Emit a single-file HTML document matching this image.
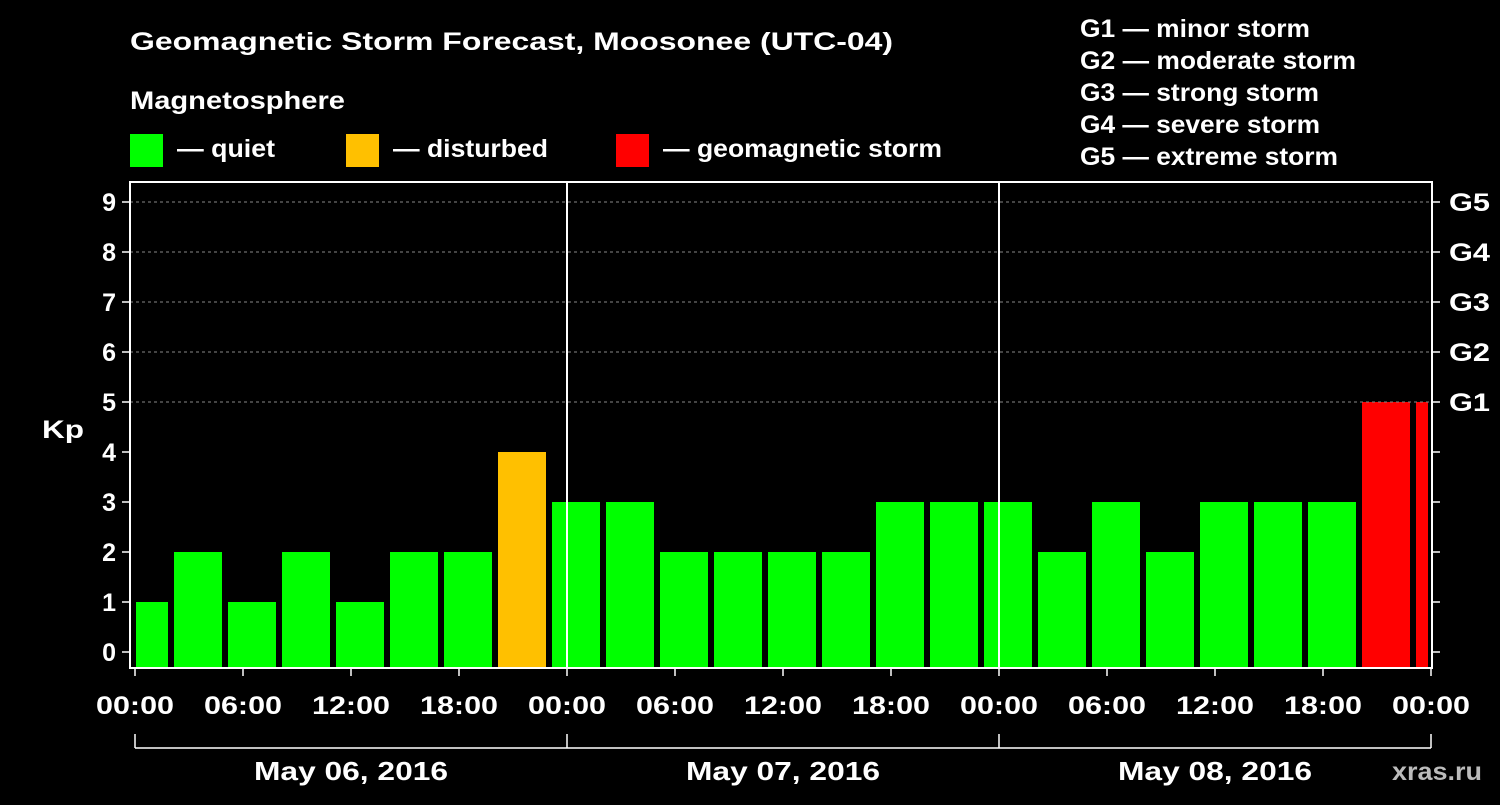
<!DOCTYPE html>
<html><head><meta charset="utf-8"><style>
body{margin:0;background:#000;width:1500px;height:800px;overflow:hidden}
svg text{font-family:"Liberation Sans",Arial,sans-serif;font-weight:bold;fill:#fff}
</style></head><body>
<svg id="c" width="1500" height="800" xmlns="http://www.w3.org/2000/svg">
<text x="130" y="50" font-size="25" textLength="763" lengthAdjust="spacingAndGlyphs">Geomagnetic Storm Forecast, Moosonee (UTC-04)</text>
<text x="130" y="109" font-size="25" textLength="215" lengthAdjust="spacingAndGlyphs">Magnetosphere</text>
<rect x="130" y="134" width="33" height="33" fill="#00ff00"/>
<text x="177" y="157" font-size="25" textLength="98" lengthAdjust="spacingAndGlyphs">— quiet</text>
<rect x="346" y="134" width="33" height="33" fill="#ffc000"/>
<text x="393" y="157" font-size="25" textLength="155" lengthAdjust="spacingAndGlyphs">— disturbed</text>
<rect x="616" y="134" width="33" height="33" fill="#ff0000"/>
<text x="663" y="157" font-size="25" textLength="279" lengthAdjust="spacingAndGlyphs">— geomagnetic storm</text>
<g font-size="25">
<text x="1080" y="37" textLength="230" lengthAdjust="spacingAndGlyphs">G1 — minor storm</text>
<text x="1080" y="69" textLength="276" lengthAdjust="spacingAndGlyphs">G2 — moderate storm</text>
<text x="1080" y="101" textLength="239" lengthAdjust="spacingAndGlyphs">G3 — strong storm</text>
<text x="1080" y="133" textLength="240" lengthAdjust="spacingAndGlyphs">G4 — severe storm</text>
<text x="1080" y="165" textLength="258" lengthAdjust="spacingAndGlyphs">G5 — extreme storm</text>
</g>
<text x="42" y="438" font-size="25" textLength="42" lengthAdjust="spacingAndGlyphs">Kp</text>
<text x="1392" y="780" font-size="25" textLength="90" lengthAdjust="spacingAndGlyphs" style="fill:#bbb">xras.ru</text>
<defs><clipPath id="pc"><rect x="136" y="183" width="1292" height="485"/></clipPath></defs>
<g id="bars" clip-path="url(#pc)"></g>
<g id="axes"></g>
</svg>
<script>
const kpValues=[1,2,1,2,1,2,2,4,3,3,2,2,2,2,3,3,3,2,3,2,3,3,3,5,5];
const yTicks=[0,1,2,3,4,5,6,7,8,9];
const gLabels=["G1","G2","G3","G4","G5"];
const xTickLabels=["00:00","06:00","12:00","18:00","00:00","06:00","12:00","18:00","00:00","06:00","12:00","18:00","00:00"];
const dayLabels=["May 06, 2016","May 07, 2016","May 08, 2016"];
const NS="http://www.w3.org/2000/svg";
const x0=135,pxPerHour=18,y0=652,pxPerKp=50,plotBottom=668,plotTop=182;
const xs=h=>x0+h*pxPerHour, ys=v=>y0-v*pxPerKp;
function mk(tag,attrs,parent){const e=document.createElementNS(NS,tag);for(const k in attrs)e.setAttribute(k,attrs[k]);parent.appendChild(e);return e;}
const barsG=document.getElementById('bars'),axesG=document.getElementById('axes');
kpValues.forEach((v,i)=>{
 const c=xs(3*i+0.5);
 const col=v>=5?"#ff0000":v>=4?"#ffc000":"#00ff00";
 const r=mk('rect',{x:c-24,y:ys(v),width:48,height:plotBottom-ys(v),fill:col},barsG);
 
 
});
yTicks.forEach(v=>{
 if(v>=5){const l=mk('line',{x1:130,x2:1432,y1:ys(v),y2:ys(v),stroke:"#888","stroke-dasharray":"3,3"},axesG);
 
 }
 mk('line',{x1:122,x2:130,y1:ys(v),y2:ys(v),stroke:"#fff","stroke-width":1.5},axesG);
 mk('line',{x1:1432,x2:1440,y1:ys(v),y2:ys(v),stroke:"#fff","stroke-width":1.5},axesG);
 const t=mk('text',{x:116,y:ys(v)+9,"font-size":25,"text-anchor":"end"},axesG);t.textContent=v;
 
 
});
gLabels.forEach((g,i)=>{const t=mk('text',{x:1449,y:ys(5+i)+9,"font-size":25,textLength:41,lengthAdjust:"spacingAndGlyphs"},axesG);t.textContent=g;
 
 });
const f=mk('rect',{x:130,y:plotTop,width:1302,height:plotBottom-plotTop,fill:"none",stroke:"#fff","stroke-width":2},axesG);


[1,2].forEach(d=>mk('line',{x1:xs(24*d),x2:xs(24*d),y1:plotTop,y2:plotBottom,stroke:"#fff","stroke-width":2},axesG));
xTickLabels.forEach((lb,i)=>{
 const x=xs(6*i);
 mk('line',{x1:x,x2:x,y1:plotBottom,y2:plotBottom+8,stroke:"#fff","stroke-width":1.5},axesG);
 const t=mk('text',{x:x-39,y:714,"font-size":25,textLength:78,lengthAdjust:"spacingAndGlyphs"},axesG);t.textContent=lb;
 
 
});
mk('line',{x1:xs(0),x2:xs(72),y1:748,y2:748,stroke:"#fff","stroke-width":1.5},axesG);
[0,1,2,3].forEach(d=>mk('line',{x1:xs(24*d),x2:xs(24*d),y1:734,y2:748,stroke:"#fff","stroke-width":1.5},axesG));
dayLabels.forEach((lb,i)=>{const t=mk('text',{x:xs(24*i+12)-97,y:780,"font-size":26,textLength:194,lengthAdjust:"spacingAndGlyphs"},axesG);t.textContent=lb;
 
 });
</script>
</body></html>
